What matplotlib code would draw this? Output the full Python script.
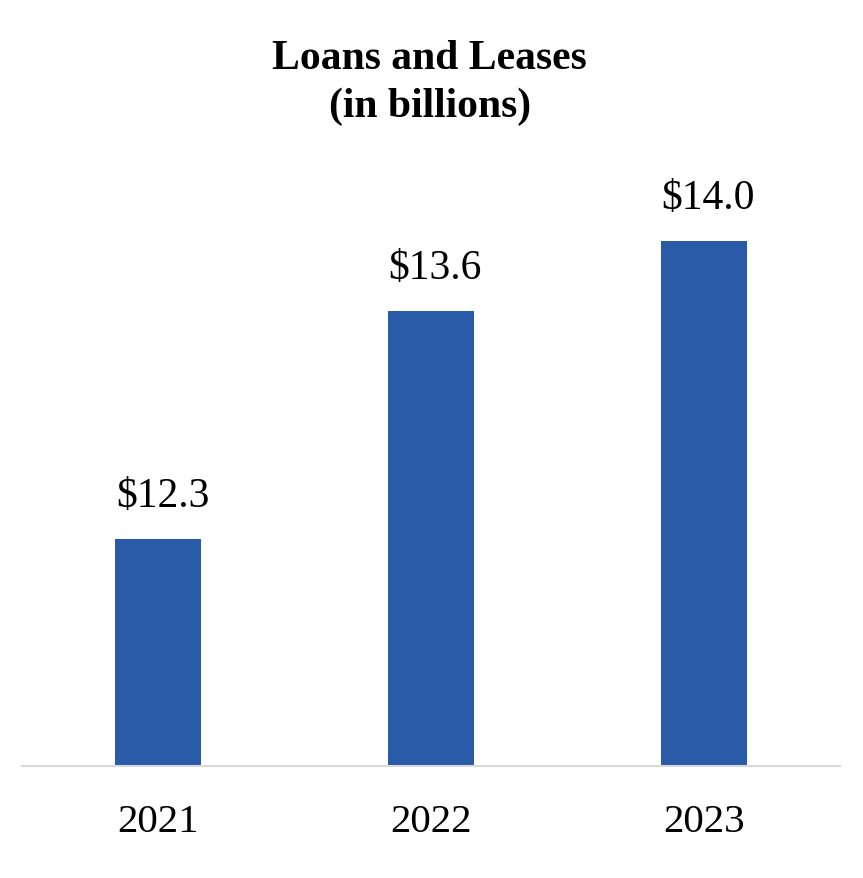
import matplotlib

matplotlib.use("Agg")
import matplotlib.pyplot as plt

years = ["2021", "2022", "2023"]
loans = [12.3, 13.6, 14.0]
labels = ["$12.3", "$13.6", "$14.0"]

plt.rcParams["font.family"] = ["Liberation Serif", "DejaVu Serif"]

fig = plt.figure(figsize=(8.63, 8.79), dpi=100)
ax = fig.add_axes([22 / 863, 112 / 879, 818 / 863, 595 / 879])

x = range(len(years))
ax.bar(x, loans, width=0.315, color="#2A5BA8", zorder=2)
for i, v in enumerate(loans):
    ax.annotate(labels[i], (i, v), xytext=(3, 17), textcoords="offset points",
                ha="center", va="bottom", fontsize=30)

ax.set_xlim(-0.5, 2.5)
ax.set_ylim(11.0, 14.40)
ax.set_xticks(list(x))
ax.set_xticklabels(years, fontsize=29.5)
ax.tick_params(axis="x", length=0, pad=27)
ax.set_yticks([])
for s in ["top", "left", "right"]:
    ax.spines[s].set_visible(False)
ax.spines["bottom"].set_color("#D9D9D9")
ax.spines["bottom"].set_linewidth(1.5)

fig.text(0.498, 1 - 83 / 879, "Loans and Leases\n(in billions)", ha="center",
         va="center", fontsize=30, fontweight="bold", linespacing=1.35)

fig.savefig("out.png", dpi=100)
